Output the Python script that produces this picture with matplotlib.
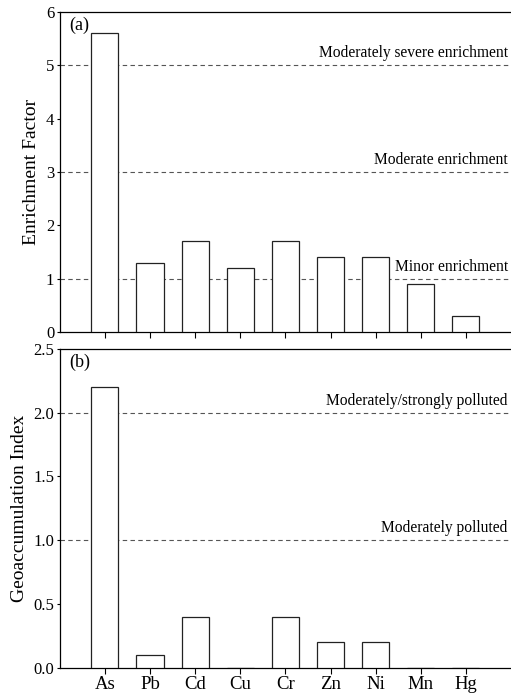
import matplotlib
matplotlib.use("Agg")
import matplotlib.pyplot as plt
import numpy as np

elements = ["As", "Pb", "Cd", "Cu", "Cr", "Zn", "Ni", "Mn", "Hg"]
ef_values = [5.6, 1.3, 1.7, 1.2, 1.7, 1.4, 1.4, 0.9, 0.3]
igeo_values = [2.2, 0.1, 0.4, 0.0, 0.4, 0.2, 0.2, 0.0, 0.0]

ef_levels = [5, 3, 1]
ef_level_names = ["Moderately severe enrichment", "Moderate enrichment", "Minor enrichment"]
igeo_levels = [2, 1]
igeo_level_names = ["Moderately/strongly polluted", "Moderately polluted"]

plt.rcParams.update({
    "font.family": ["Liberation Serif", "DejaVu Serif"],
    "font.size": 11,
    "axes.linewidth": 0.9,
    "xtick.direction": "out",
    "ytick.direction": "out",
})

fig = plt.figure(figsize=(5.11, 6.95), dpi=100)
ax1 = fig.add_axes([0.117, 0.522, 0.883, 0.461])
ax2 = fig.add_axes([0.117, 0.039, 0.883, 0.459])

x = np.arange(1, len(elements) + 1)


def _panel(ax, vals, levels, names, ylim, yticks, fmt, ylabel, tag):
    ax.bar(x, vals, width=0.6, facecolor="white", edgecolor="#222222", linewidth=0.9, zorder=3)
    for lv, nm in zip(levels, names):
        ax.axhline(lv, color="#555555", linestyle=(0, (4, 3)), linewidth=0.8, zorder=1)
        ax.text(9.93, lv + ylim[1] * 0.012, nm, ha="right", va="bottom", fontsize=11.2)
    ax.set_xlim(0, 10)
    ax.set_ylim(*ylim)
    ax.set_yticks(yticks)
    ax.set_yticklabels([fmt.format(v) for v in yticks], fontsize=12)
    ax.set_xticks(x)
    ax.spines["right"].set_visible(False)
    ax.set_ylabel(ylabel, fontsize=14)
    ax.text(0.02, 0.985, tag, transform=ax.transAxes, ha="left", va="top", fontsize=13)
    ax.tick_params(axis="y", length=2.5, width=0.8, pad=1.5)
    ax.tick_params(axis="x", length=4, width=0.8)


_panel(ax1, ef_values, ef_levels, ef_level_names, (0, 6), [0, 1, 2, 3, 4, 5, 6],
       "{:.0f}", "Enrichment Factor", "(a)")
ax1.set_xticklabels([])

_panel(ax2, igeo_values, igeo_levels, igeo_level_names, (0, 2.5), [0, 0.5, 1.0, 1.5, 2.0, 2.5],
       "{:.1f}", "Geoaccumulation Index", "(b)")
ax2.set_xticklabels(elements, fontsize=13.5)
ax2.tick_params(axis="x", pad=2)

fig.savefig("out.png", dpi=100)
